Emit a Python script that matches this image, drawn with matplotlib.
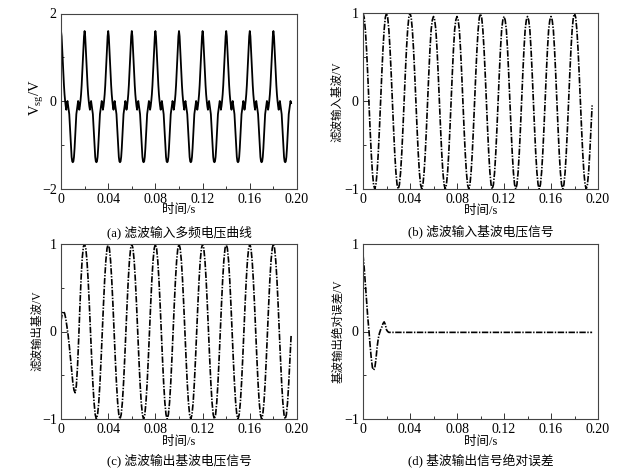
import numpy as np
import matplotlib
matplotlib.use('Agg')
import matplotlib.pyplot as plt
from matplotlib.ticker import MultipleLocator

plt.rcParams['font.family'] = ['Liberation Serif', 'Noto Sans CJK SC']
plt.rcParams['mathtext.fontset'] = 'custom'
plt.rcParams['mathtext.rm'] = 'Liberation Serif'
plt.rcParams['mathtext.it'] = 'Liberation Serif:italic'
plt.rcParams['lines.scale_dashes'] = False
plt.rcParams['axes.unicode_minus'] = True

# ---------------- data ----------------
# sample time grids (s)
t_a = np.arange(391) * 0.0005
t_bcd = np.arange(196) * 0.001

# (a) multi-frequency input voltage, 0.5 ms samples
v_input_multi = [
    1.60, 1.48, 1.22, 0.92, 0.62, 0.36, 0.15, 0.00, -0.12, -0.20, -0.05, 0.00, -0.10, -0.20, -0.30, -0.55, -0.82, -1.08, -1.28, -1.38,
    -1.40, -1.38, -1.28, -1.08, -0.82, -0.55, -0.30, -0.20, -0.10, 0.00, -0.05, -0.20, -0.12, 0.00, 0.15, 0.36, 0.62, 0.92, 1.22, 1.48,
    1.60, 1.48, 1.22, 0.92, 0.62, 0.36, 0.15, 0.00, -0.12, -0.20, -0.05, 0.00, -0.10, -0.20, -0.30, -0.55, -0.82, -1.08, -1.28, -1.38,
    -1.40, -1.38, -1.28, -1.08, -0.82, -0.55, -0.30, -0.20, -0.10, 0.00, -0.05, -0.20, -0.12, 0.00, 0.15, 0.36, 0.62, 0.92, 1.22, 1.48,
    1.60, 1.48, 1.22, 0.92, 0.62, 0.36, 0.15, 0.00, -0.12, -0.20, -0.05, 0.00, -0.10, -0.20, -0.30, -0.55, -0.82, -1.08, -1.28, -1.38,
    -1.40, -1.38, -1.28, -1.08, -0.82, -0.55, -0.30, -0.20, -0.10, 0.00, -0.05, -0.20, -0.12, 0.00, 0.15, 0.36, 0.62, 0.92, 1.22, 1.48,
    1.60, 1.48, 1.22, 0.92, 0.62, 0.36, 0.15, 0.00, -0.12, -0.20, -0.05, 0.00, -0.10, -0.20, -0.30, -0.55, -0.82, -1.08, -1.28, -1.38,
    -1.40, -1.38, -1.28, -1.08, -0.82, -0.55, -0.30, -0.20, -0.10, 0.00, -0.05, -0.20, -0.12, 0.00, 0.15, 0.36, 0.62, 0.92, 1.22, 1.48,
    1.60, 1.48, 1.22, 0.92, 0.62, 0.36, 0.15, 0.00, -0.12, -0.20, -0.05, 0.00, -0.10, -0.20, -0.30, -0.55, -0.82, -1.08, -1.28, -1.38,
    -1.40, -1.38, -1.28, -1.08, -0.82, -0.55, -0.30, -0.20, -0.10, 0.00, -0.05, -0.20, -0.12, 0.00, 0.15, 0.36, 0.62, 0.92, 1.22, 1.48,
    1.60, 1.48, 1.22, 0.92, 0.62, 0.36, 0.15, 0.00, -0.12, -0.20, -0.05, 0.00, -0.10, -0.20, -0.30, -0.55, -0.82, -1.08, -1.28, -1.38,
    -1.40, -1.38, -1.28, -1.08, -0.82, -0.55, -0.30, -0.20, -0.10, 0.00, -0.05, -0.20, -0.12, 0.00, 0.15, 0.36, 0.62, 0.92, 1.22, 1.48,
    1.60, 1.48, 1.22, 0.92, 0.62, 0.36, 0.15, 0.00, -0.12, -0.20, -0.05, 0.00, -0.10, -0.20, -0.30, -0.55, -0.82, -1.08, -1.28, -1.38,
    -1.40, -1.38, -1.28, -1.08, -0.82, -0.55, -0.30, -0.20, -0.10, 0.00, -0.05, -0.20, -0.12, 0.00, 0.15, 0.36, 0.62, 0.92, 1.22, 1.48,
    1.60, 1.48, 1.22, 0.92, 0.62, 0.36, 0.15, 0.00, -0.12, -0.20, -0.05, 0.00, -0.10, -0.20, -0.30, -0.55, -0.82, -1.08, -1.28, -1.38,
    -1.40, -1.38, -1.28, -1.08, -0.82, -0.55, -0.30, -0.20, -0.10, 0.00, -0.05, -0.20, -0.12, 0.00, 0.15, 0.36, 0.62, 0.92, 1.22, 1.48,
    1.60, 1.48, 1.22, 0.92, 0.62, 0.36, 0.15, 0.00, -0.12, -0.20, -0.05, 0.00, -0.10, -0.20, -0.30, -0.55, -0.82, -1.08, -1.28, -1.38,
    -1.40, -1.38, -1.28, -1.08, -0.82, -0.55, -0.30, -0.20, -0.10, 0.00, -0.05, -0.20, -0.12, 0.00, 0.15, 0.36, 0.62, 0.92, 1.22, 1.48,
    1.60, 1.48, 1.22, 0.92, 0.62, 0.36, 0.15, 0.00, -0.12, -0.20, -0.05, 0.00, -0.10, -0.20, -0.30, -0.55, -0.82, -1.08, -1.28, -1.38,
    -1.40, -1.38, -1.28, -1.08, -0.82, -0.55, -0.30, -0.20, -0.10, 0.00, -0.05,
]

# (b) input fundamental, 1 ms samples
v_input_fund = [
    1.00, 0.95, 0.81, 0.59, 0.31, 0.00, -0.31, -0.59, -0.81, -0.95, -1.00, -0.95, -0.81, -0.59, -0.31, 0.00, 0.31, 0.59, 0.81, 0.95,
    1.00, 0.95, 0.81, 0.59, 0.31, 0.00, -0.31, -0.59, -0.81, -0.95, -1.00, -0.95, -0.81, -0.59, -0.31, 0.00, 0.31, 0.59, 0.81, 0.95,
    1.00, 0.95, 0.81, 0.59, 0.31, 0.00, -0.31, -0.59, -0.81, -0.95, -1.00, -0.95, -0.81, -0.59, -0.31, 0.00, 0.31, 0.59, 0.81, 0.92,
    0.96, 0.92, 0.81, 0.59, 0.31, 0.00, -0.31, -0.59, -0.81, -0.95, -1.00, -0.95, -0.81, -0.59, -0.31, 0.00, 0.31, 0.59, 0.81, 0.92,
    0.96, 0.92, 0.81, 0.59, 0.31, 0.00, -0.31, -0.59, -0.81, -0.95, -1.00, -0.95, -0.81, -0.59, -0.31, 0.00, 0.31, 0.59, 0.81, 0.95,
    0.99, 0.95, 0.81, 0.59, 0.31, 0.00, -0.31, -0.59, -0.81, -0.95, -1.00, -0.95, -0.81, -0.59, -0.31, 0.00, 0.31, 0.59, 0.81, 0.92,
    0.96, 0.92, 0.81, 0.59, 0.31, 0.00, -0.31, -0.59, -0.81, -0.95, -1.00, -0.95, -0.81, -0.59, -0.31, 0.00, 0.31, 0.59, 0.81, 0.92,
    0.96, 0.92, 0.81, 0.59, 0.31, 0.00, -0.31, -0.59, -0.81, -0.95, -1.00, -0.95, -0.81, -0.59, -0.31, 0.00, 0.31, 0.59, 0.81, 0.92,
    0.96, 0.92, 0.81, 0.59, 0.31, 0.00, -0.31, -0.59, -0.81, -0.95, -1.00, -0.95, -0.81, -0.59, -0.31, 0.00, 0.31, 0.59, 0.81, 0.95,
    1.00, 0.95, 0.81, 0.59, 0.31, 0.00, -0.31, -0.59, -0.81, -0.95, -1.00, -0.95, -0.81, -0.59, -0.31, -0.05,
]

# (c) filter output fundamental, 1 ms samples
v_output_fund = [
    0.12, 0.20, 0.23, 0.21, 0.15, 0.06, -0.04, -0.16, -0.30, -0.45, -0.58, -0.67, -0.70, -0.62, -0.40, -0.08, 0.28, 0.60, 0.84, 0.97,
    1.00, 0.95, 0.81, 0.59, 0.31, 0.00, -0.31, -0.59, -0.81, -0.95, -1.00, -0.95, -0.81, -0.59, -0.31, 0.00, 0.31, 0.59, 0.81, 0.95,
    1.00, 0.95, 0.81, 0.59, 0.31, 0.00, -0.31, -0.59, -0.81, -0.95, -1.00, -0.95, -0.81, -0.59, -0.31, 0.00, 0.31, 0.59, 0.81, 0.95,
    1.00, 0.95, 0.81, 0.59, 0.31, 0.00, -0.31, -0.59, -0.81, -0.95, -1.00, -0.95, -0.81, -0.59, -0.31, 0.00, 0.31, 0.59, 0.81, 0.95,
    1.00, 0.95, 0.81, 0.59, 0.31, 0.00, -0.31, -0.59, -0.81, -0.95, -1.00, -0.95, -0.81, -0.59, -0.31, 0.00, 0.31, 0.59, 0.81, 0.95,
    1.00, 0.95, 0.81, 0.59, 0.31, 0.00, -0.31, -0.59, -0.81, -0.95, -1.00, -0.95, -0.81, -0.59, -0.31, 0.00, 0.31, 0.59, 0.81, 0.95,
    1.00, 0.95, 0.81, 0.59, 0.31, 0.00, -0.31, -0.59, -0.81, -0.95, -1.00, -0.95, -0.81, -0.59, -0.31, 0.00, 0.31, 0.59, 0.81, 0.95,
    1.00, 0.95, 0.81, 0.59, 0.31, 0.00, -0.31, -0.59, -0.81, -0.95, -1.00, -0.95, -0.81, -0.59, -0.31, 0.00, 0.31, 0.59, 0.81, 0.95,
    1.00, 0.95, 0.81, 0.59, 0.31, 0.00, -0.31, -0.59, -0.81, -0.95, -1.00, -0.95, -0.81, -0.59, -0.31, 0.00, 0.31, 0.59, 0.81, 0.95,
    1.00, 0.95, 0.81, 0.59, 0.31, 0.00, -0.31, -0.59, -0.81, -0.95, -1.00, -0.95, -0.81, -0.59, -0.31, -0.05,
]

# (d) absolute error of output fundamental, 1 ms samples
v_error = [
    0.88, 0.73, 0.55, 0.36, 0.17, 0.02, -0.15, -0.30, -0.41, -0.44, -0.42, -0.32, -0.18, -0.08, -0.02, 0.02, 0.05, 0.09, 0.11, 0.08,
    0.02, 0.00, -0.01, -0.01, -0.01, -0.01, -0.01, -0.01, -0.01, -0.01, -0.01, -0.01, -0.01, -0.01, -0.01, -0.01, -0.01, -0.01, -0.01, -0.01,
    -0.01, -0.01, -0.01, -0.01, -0.01, -0.01, -0.01, -0.01, -0.01, -0.01, -0.01, -0.01, -0.01, -0.01, -0.01, -0.01, -0.01, -0.01, -0.01, -0.01,
    -0.01, -0.01, -0.01, -0.01, -0.01, -0.01, -0.01, -0.01, -0.01, -0.01, -0.01, -0.01, -0.01, -0.01, -0.01, -0.01, -0.01, -0.01, -0.01, -0.01,
    -0.01, -0.01, -0.01, -0.01, -0.01, -0.01, -0.01, -0.01, -0.01, -0.01, -0.01, -0.01, -0.01, -0.01, -0.01, -0.01, -0.01, -0.01, -0.01, -0.01,
    -0.01, -0.01, -0.01, -0.01, -0.01, -0.01, -0.01, -0.01, -0.01, -0.01, -0.01, -0.01, -0.01, -0.01, -0.01, -0.01, -0.01, -0.01, -0.01, -0.01,
    -0.01, -0.01, -0.01, -0.01, -0.01, -0.01, -0.01, -0.01, -0.01, -0.01, -0.01, -0.01, -0.01, -0.01, -0.01, -0.01, -0.01, -0.01, -0.01, -0.01,
    -0.01, -0.01, -0.01, -0.01, -0.01, -0.01, -0.01, -0.01, -0.01, -0.01, -0.01, -0.01, -0.01, -0.01, -0.01, -0.01, -0.01, -0.01, -0.01, -0.01,
    -0.01, -0.01, -0.01, -0.01, -0.01, -0.01, -0.01, -0.01, -0.01, -0.01, -0.01, -0.01, -0.01, -0.01, -0.01, -0.01, -0.01, -0.01, -0.01, -0.01,
    -0.01, -0.01, -0.01, -0.01, -0.01, -0.01, -0.01, -0.01, -0.01, -0.01, -0.01, -0.01, -0.01, -0.01, -0.01, -0.01,
]

x_ticks = [0, 0.04, 0.08, 0.12, 0.16, 0.20]
x_tick_labels = ['0', '0.04', '0.08', '0.12', '0.16', '0.20']
xlabel = '时间/s'
ylabels = [r'V$_{\rm sg}$/V', '滤波输入基波/V', '滤波输出基波/V', '基波输出绝对误差/V']
captions = ['(a) 滤波输入多频电压曲线', '(b) 滤波输入基波电压信号',
            '(c) 滤波输出基波电压信号', '(d) 基波输出信号绝对误差']

# ---------------- layout ----------------
W, H = 625, 468
fig = plt.figure(figsize=(W / 100, H / 100), dpi=100)
fig.patch.set_facecolor('white')


def box(l, r, t, b):
    return [l / W, 1 - b / H, (r - l) / W, (b - t) / H]


def ftext(x, y, s, **kw):
    fig.text(x / W, 1 - y / H, s, ha='center', va='center', **kw)


panels = [
    dict(box=box(61, 297, 13.5, 188.5), t=t_a, y=v_input_multi, ylim=(-2, 2), yt=[-2, 0, 2], ym=1,
         style='-', lw=1.3, ylab=(37, 98), xl=(179, 210.5), cap=(179, 232)),
    dict(box=box(363, 598, 13, 189), t=t_bcd, y=v_input_fund, ylim=(-1, 1), yt=[-1, 0, 1], ym=0.5,
         style='dd', lw=1.2, ylab=(337, 102), xl=(481, 211), cap=(481, 231)),
    dict(box=box(61, 297, 244, 419), t=t_bcd, y=v_output_fund, ylim=(-1, 1), yt=[-1, 0, 1], ym=0.5,
         style='dd', lw=1.2, ylab=(37, 331), xl=(179, 441.5), cap=(179, 460)),
    dict(box=box(363, 598, 244, 419), t=t_bcd, y=v_error, ylim=(-1, 1), yt=[-1, 0, 1], ym=0.5,
         style='dd', lw=1.2, ylab=(338, 331), xl=(481, 441.5), cap=(481, 460)),
]

for i, p in enumerate(panels):
    ax = fig.add_axes(p['box'])
    if p['style'] == '-':
        ax.plot(p['t'], p['y'], color='black', lw=p['lw'], solid_joinstyle='round')
    else:
        ax.plot(p['t'], p['y'], color='black', lw=p['lw'],
                linestyle=(0, (4.6, 1.1, 1.0, 1.1)))
    ax.set_xlim(0, 0.2)
    ax.set_ylim(*p['ylim'])
    ax.set_xticks(x_ticks)
    ax.set_xticklabels(x_tick_labels)
    ax.xaxis.set_minor_locator(MultipleLocator(0.02))
    ax.set_yticks(p['yt'])
    ax.yaxis.set_minor_locator(MultipleLocator(p['ym']))
    ax.tick_params(which='both', direction='in', top=False, right=False,
                   labelsize=10, color='#333333', width=0.7)
    ax.tick_params(which='major', length=4, pad=3)
    ax.tick_params(which='minor', length=2)
    for s in ax.spines.values():
        s.set_color('#444444')
        s.set_linewidth(0.8)
    if i == 0:
        ftext(*p['ylab'], ylabels[i], rotation=90, fontsize=10.5)
    else:
        ftext(*p['ylab'], ylabels[i], rotation=90, fontsize=8.3)
    ftext(*p['xl'], xlabel, fontsize=9)
    ftext(*p['cap'], captions[i], fontsize=9.2)

fig.savefig('out.png', dpi=100, facecolor='white')
